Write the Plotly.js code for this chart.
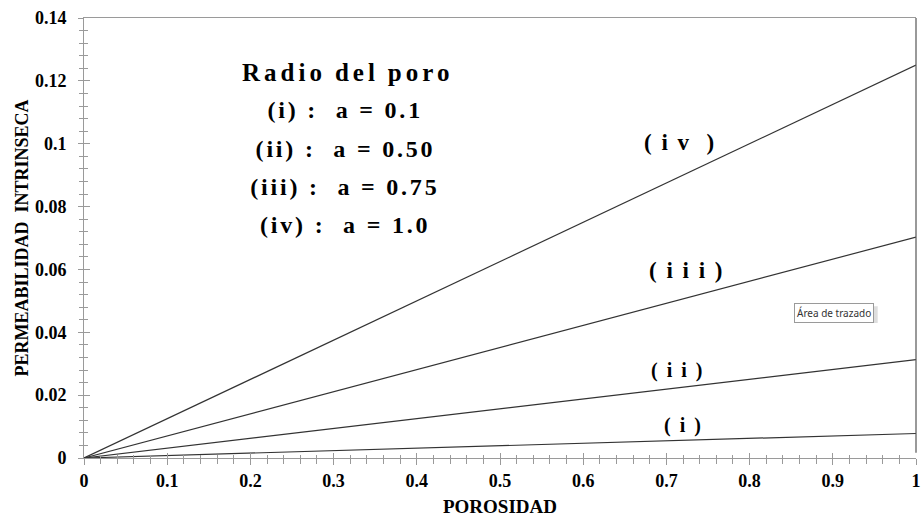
<!DOCTYPE html>
<html>
<head>
<meta charset="utf-8">
<script src="https://cdn.plot.ly/plotly-3.0.1.min.js"></script>
<style>
  html, body { margin: 0; padding: 0; background: #fff; }
  #chart { width: 922px; height: 517px; }
  /* spaced lettering for the curve tags and the pore-radius key */
  .annotation[data-index="0"] text, .annotation[data-index="1"] text,
  .annotation[data-index="2"] text, .annotation[data-index="3"] text { letter-spacing: 2px; }
  .annotation[data-index="4"] text { letter-spacing: 4px; }
  .annotation[data-index="5"] text, .annotation[data-index="6"] text,
  .annotation[data-index="7"] text, .annotation[data-index="8"] text { letter-spacing: 2.8px; }
</style>
</head>
<body>
<div id="chart"></div>
<script>
// Intrinsic permeability versus porosity for four pore radii
const porosity = [0, 1];
const curveI   = [0, 0.0078];
const curveII  = [0, 0.0313];
const curveIII = [0, 0.0703];
const curveIV  = [0, 0.125];

const curveLabels = ['( i )', '( i i )', '( i i i )', '( i v\u00a0\u00a0)'];
const labelX = [0.721, 0.713, 0.725, 0.716];
const labelY = [0.0105, 0.028, 0.0598, 0.1005];
const labelSize = [20, 20, 23, 23];

const legendLines = [
  'Radio\u2009del\u2009poro',
  '(i) :\u00a0 a = 0.1',
  '(ii) :\u00a0 a = 0.50',
  '(iii) :\u00a0 a = 0.75',
  '(iv) :\u00a0 a = 1.0'
];
const legendX = [0.317, 0.314, 0.314, 0.314, 0.314];
const legendY = [0.1228, 0.1107, 0.0983, 0.0862, 0.0741];

const serif = "'Liberation Serif', 'Times New Roman', serif";
const lineStyle = { color: '#333333', width: 1.2 };

const traces = [curveI, curveII, curveIII, curveIV].map(ys => ({
  x: porosity, y: ys, type: 'scatter', mode: 'lines',
  line: lineStyle, hoverinfo: 'skip', showlegend: false
}));
// companion trace so the inner-tick axes are drawn
traces.push({ x: porosity, y: [0, 0], xaxis: 'x2', yaxis: 'y2', mode: 'lines',
  line: { width: 0 }, hoverinfo: 'skip', showlegend: false });

const annotations = [];
curveLabels.forEach((t, i) => annotations.push({
  x: labelX[i], y: labelY[i], xref: 'x', yref: 'y', text: t,
  showarrow: false, font: { family: serif, size: labelSize[i], color: '#000', weight: 'bold' }
}));
legendLines.forEach((t, i) => annotations.push({
  x: legendX[i], y: legendY[i], xref: 'x', yref: 'y', text: t,
  showarrow: false, font: { family: serif, size: i === 0 ? 25 : 24, color: '#000', weight: 'bold' }
}));
annotations.push({
  x: 0.901, y: 0.3295, xref: 'paper', yref: 'paper', xanchor: 'center', yanchor: 'middle',
  text: 'Área de trazado',
  showarrow: false, bgcolor: '#ffffff', bordercolor: '#9a9a9a', borderwidth: 1,
  borderpad: 2, font: { family: "'Noto Sans', 'DejaVu Sans', sans-serif", size: 10, color: '#333' }
});

const tickFont = { family: serif, size: 18, color: '#000', weight: 'bold' };
const layout = {
  width: 922, height: 517,
  margin: { l: 84, r: 6, t: 18, b: 59 },
  paper_bgcolor: '#fff', plot_bgcolor: '#fff',
  showlegend: false,
  xaxis: {
    range: [0, 1], dtick: 0.1, tick0: 0, showgrid: false, zeroline: false,
    showline: true, linecolor: '#9a9a9a', linewidth: 1, mirror: true,
    ticks: 'outside', ticklen: 6, tickcolor: '#9a9a9a', tickwidth: 1,
    minor: { dtick: 0.02, ticks: 'outside', ticklen: 5, tickcolor: '#9a9a9a', showgrid: false },
    tickfont: tickFont,
    title: { text: 'POROSIDAD', font: { family: serif, size: 19, color: '#000', weight: 'bold' }, standoff: 10 }
  },
  yaxis: {
    range: [0, 0.14], dtick: 0.02, tick0: 0, showgrid: false, zeroline: false,
    showline: true, linecolor: '#9a9a9a', linewidth: 1,
    ticks: 'outside', ticklen: 5, tickcolor: '#9a9a9a', tickwidth: 1,
    minor: { dtick: 0.004, ticks: 'outside', ticklen: 4, tickcolor: '#9a9a9a', showgrid: false },
    tickfont: tickFont, ticklabelstandoff: 8,
    title: { text: 'PERMEABILIDAD\u00a0\u00a0INTRINSECA', font: { family: serif, size: 18, color: '#000', weight: 'bold' }, standoff: 1 }
  },
  xaxis2: {
    overlaying: 'x', range: [0, 1], dtick: 0.1, tick0: 0, showgrid: false, zeroline: false,
    showticklabels: false, ticks: 'inside', ticklen: 5, tickcolor: '#9a9a9a',
    minor: { dtick: 0.02, ticks: 'inside', ticklen: 3, tickcolor: '#9a9a9a', showgrid: false }
  },
  yaxis2: {
    overlaying: 'y', range: [0, 0.14], dtick: 0.02, tick0: 0, showgrid: false, zeroline: false,
    showticklabels: false, ticks: 'inside', ticklen: 6, tickcolor: '#9a9a9a',
    minor: { dtick: 0.004, ticks: 'inside', ticklen: 4, tickcolor: '#9a9a9a', showgrid: false }
  },
  shapes: [
    { type: 'line', xref: 'paper', yref: 'paper', x0: 1, x1: 1, y0: 0.012, y1: 1,
      line: { color: '#555555', width: 1.2 } },
    { type: 'rect', xref: 'paper', yref: 'paper', x0: 0.8546, x1: 0.954, y0: 0.307, y1: 0.345,
      fillcolor: 'rgba(0,0,0,0.13)', line: { width: 0 }, layer: 'above' }
  ],
  annotations: annotations
};

Plotly.newPlot('chart', traces, layout, { staticPlot: true });
</script>
</body>
</html>
